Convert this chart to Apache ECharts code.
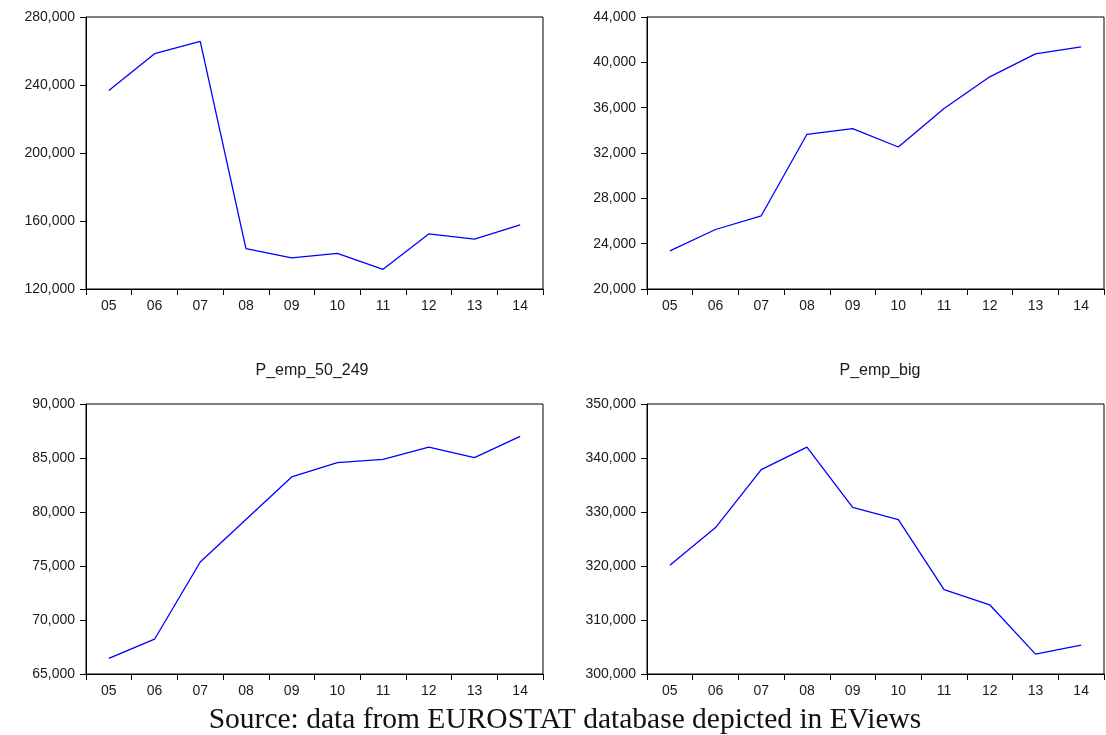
<!DOCTYPE html>
<html>
<head>
<meta charset="utf-8">
<script src="https://cdn.jsdelivr.net/npm/echarts@6/dist/echarts.min.js"></script>
<style>
  html, body { margin: 0; padding: 0; background: #fff; }
  #chart { width: 1106px; height: 735px; }
</style>
</head>
<body>
<div id="chart"></div>
<script>
// Years 2005–2014, shown as two-digit labels
const years = ['05', '06', '07', '08', '09', '10', '11', '12', '13', '14'];

// Panel series
const pEmpSmall = [236800, 258400, 265600, 143800, 138300, 141000, 131600, 152400, 149300, 157700];
const pEmpMid   = [23360, 25250, 26460, 33650, 34150, 32530, 35920, 38720, 40750, 41370];
const pEmp50249 = [66440, 68220, 75370, 79300, 83250, 84570, 84880, 86010, 85030, 87000];
const pEmpBig   = [320120, 327120, 337850, 342020, 330860, 328590, 315640, 312820, 303680, 305340];

// Value axis ranges: [min, max, interval]
const rangeSmall = [120000, 280000, 40000];
const rangeMid   = [20000, 44000, 4000];
const range50249 = [65000, 90000, 5000];
const rangeBig   = [300000, 350000, 10000];

const panelTitles = ['', '', 'P_emp_50_249', 'P_emp_big'];
const caption = 'Source: data from EUROSTAT database depicted in EViews';

const FONT = '"Liberation Sans", Arial, sans-serif';
const INK = '#1a1a1a';

const grids = [
  { left: 86,  top: 17,  width: 457, height: 272 },
  { left: 647, top: 17,  width: 457, height: 272 },
  { left: 86,  top: 404, width: 457, height: 270 },
  { left: 647, top: 404, width: 457, height: 270 }
].map(g => Object.assign({ show: true, borderColor: '#000', borderWidth: 1, backgroundColor: '#fff' }, g));

const seriesData = [pEmpSmall, pEmpMid, pEmp50249, pEmpBig];
const ranges = [rangeSmall, rangeMid, range50249, rangeBig];

const xAxes = grids.map((g, i) => ({
  type: 'category',
  gridIndex: i,
  data: years,
  boundaryGap: true,
  axisLine: { show: true, lineStyle: { color: '#000', width: 1 } },
  axisTick: { show: true, alignWithLabel: false, length: 6, lineStyle: { color: '#000' } },
  axisLabel: { color: INK, fontFamily: FONT, fontSize: 14, margin: 10 },
  splitLine: { show: false }
}));

const yAxes = grids.map((g, i) => ({
  type: 'value',
  gridIndex: i,
  min: ranges[i][0],
  max: ranges[i][1],
  interval: ranges[i][2],
  axisLine: { show: true, lineStyle: { color: '#000', width: 1 } },
  axisTick: { show: true, length: 6, lineStyle: { color: '#000' } },
  axisLabel: {
    color: INK, fontFamily: FONT, fontSize: 14, margin: 11,
    formatter: v => v.toLocaleString('en-US')
  },
  splitLine: { show: false }
}));

const series = seriesData.map((d, i) => ({
  type: 'line',
  xAxisIndex: i,
  yAxisIndex: i,
  data: d,
  symbol: 'none',
  lineStyle: { color: '#0000ff', width: 1.3 },
  silent: true
}));

const titles = [
  { text: panelTitles[2], left: 307, top: 358 },
  { text: panelTitles[3], left: 875, top: 358 }
].map(t => ({
  text: t.text,
  left: t.left,
  top: t.top,
  textAlign: 'center',
  textStyle: { fontFamily: FONT, fontSize: 16, fontWeight: 'normal', color: INK }
}));

titles.push({
  text: caption,
  left: 560,
  top: 700,
  textAlign: 'center',
  textStyle: { fontFamily: '"Liberation Serif", "Times New Roman", serif', fontSize: 29.5, fontWeight: 'normal', color: '#111' }
});

const chart = echarts.init(document.getElementById('chart'), null, { renderer: 'canvas' });
chart.setOption({
  animation: false,
  backgroundColor: '#fff',
  title: titles,
  grid: grids,
  xAxis: xAxes,
  yAxis: yAxes,
  series: series
});
</script>
</body>
</html>
